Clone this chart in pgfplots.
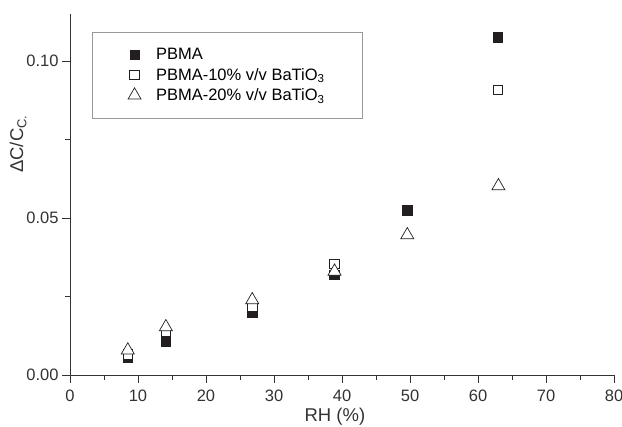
\documentclass[border=0pt]{standalone}
\usepackage{fontspec}
\setmainfont{Liberation Sans}
\usepackage{pgfplots}
\pgfplotsset{compat=1.18}
\definecolor{dk}{HTML}{231F20}
\definecolor{ax}{HTML}{333333}
\begin{document}
\begin{tikzpicture}[x=1bp,y=1bp]
\begin{axis}[
  scale only axis,
  width=544bp, height=361bp,
  xmin=0, xmax=80, ymin=0, ymax=0.115,
  axis lines*=left,
  axis line style={ax, line width=0.9pt, -},
  every tick/.style={ax, line width=0.9pt},
  tick align=outside,
  major tick length=8bp,
  minor tick length=4.5bp,
  xtick={0,10,...,80},
  ytick={0,0.05,0.10},
  minor x tick num=1,
  minor y tick num=1,
  /pgf/number format/assume math mode=true,
  yticklabel style={/pgf/number format/fixed, /pgf/number format/fixed zerofill, /pgf/number format/precision=2},
  xticklabel style={yshift=-3bp, /pgf/number format/fixed, /pgf/number format/precision=0},
  ticklabel style={font=\fontsize{16.5bp}{19bp}\selectfont, text=ax},
  scaled y ticks=false,
  xlabel={RH (\%)},
  ylabel={ΔC/C\textsubscript{C.}},
  label style={font=\fontsize{18.5bp}{22bp}\selectfont, text=ax},
  xlabel style={at={(axis description cs:0.487,0)}, anchor=base, yshift=-46bp},
  ylabel style={at={(axis description cs:0,0.64)}, anchor=south, yshift=40bp},
  legend style={at={(axis description cs:0.04,0.95)}, anchor=north west,
    draw=gray!80, line width=0.6pt, fill=white,
    font=\fontsize{16.5bp}{19bp}\selectfont,
    inner xsep=36bp, inner ysep=14bp, row sep=3bp,
    /tikz/every odd column/.append style={column sep=13bp}},
  legend image code/.code={\path (0bp,0bp) (12bp,0bp); \draw[#1] plot coordinates {(6bp,0bp)};},
  legend cell align=left,
  clip=false,
]
\addplot[only marks, mark=square*, mark size=4.8bp, mark options={draw=dk, fill=dk, line width=0.5pt}]
  coordinates {(8.5,0.0055) (14.1,0.0108) (26.8,0.0198) (38.9,0.0320) (49.6,0.0525) (62.9,0.1076)};
\addlegendentry{PBMA}
\addplot[only marks, mark=square*, mark size=4.8bp, mark options={draw=dk, fill=white, line width=0.7pt}]
  coordinates {(8.5,0.0066) (14.1,0.0138) (26.8,0.0218) (38.9,0.0354) (62.9,0.0908)};
\addlegendentry{PBMA-10\% v/v BaTiO\textsubscript{3}}
\addplot[only marks, mark=triangle*, mark size=7.5bp, mark options={draw=dk, fill=white, line width=0.7pt}]
  coordinates {(8.5,0.0079) (14.1,0.0153) (26.8,0.0239) (38.9,0.0330) (49.6,0.0446) (63.0,0.0602)};
\addlegendentry{PBMA-20\% v/v BaTiO\textsubscript{3}}
\end{axis}
\pgfresetboundingbox
\path[use as bounding box] ([shift={(-70bp,-51bp)}]current axis.south west) rectangle ([shift={(8bp,14bp)}]current axis.north east);
\end{tikzpicture}
\end{document}
